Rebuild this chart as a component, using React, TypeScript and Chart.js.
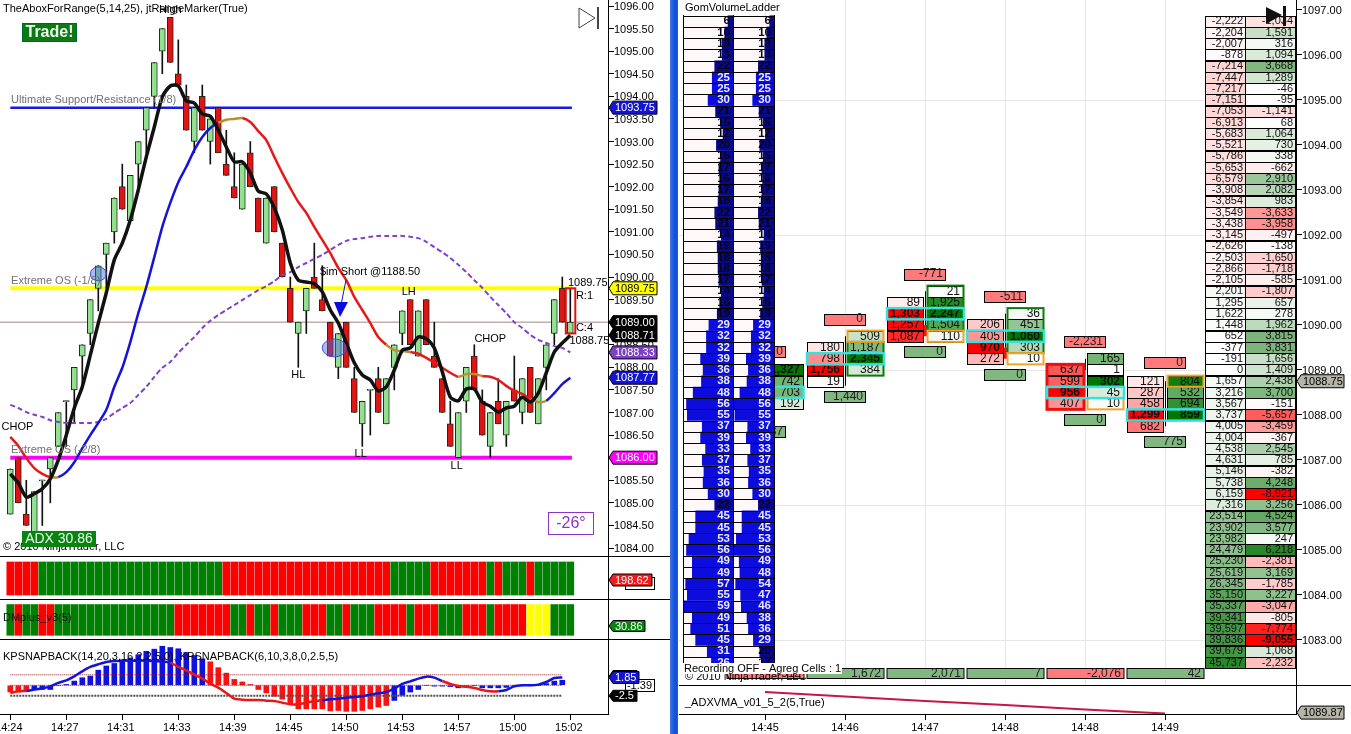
import React, { useEffect, useRef } from 'react';
import { Chart, registerables } from 'chart.js';

Chart.register(...registerables);

const FONT = '"Liberation Sans", Arial, sans-serif';

// ---------- left chart data ----------
const opens = [
  1084.75, 1086, 1084.75, 1084.25, 1085.5, 1085.75, 1086.25, 1087.25, 1087.5, 1088.25,
  1088.75, 1089.75, 1090.5, 1091, 1092, 1091.25, 1092.5, 1093.25, 1094, 1095,
  1095.75, 1094.5, 1094, 1093, 1094, 1093, 1093.75, 1092.5, 1092, 1091.5,
  1092.75, 1091.75, 1090.75, 1092, 1090.75, 1089.75, 1088.75, 1089.25, 1090, 1089.5,
  1089, 1088, 1089, 1087.75, 1086.75, 1087.5, 1087.75, 1086.75, 1088, 1088.75,
  1089.5, 1088.25, 1089.5, 1088.25, 1087.75, 1086.75, 1086, 1087.25, 1088.25, 1087.25,
  1086.25, 1087.25, 1086.5, 1087.5, 1087, 1088, 1086.75, 1088, 1088.75, 1089.75,
  1088.75,
];
const highs = [
  1085.75, 1086, 1085.5, 1085.25, 1085.5, 1086, 1087, 1087.25, 1088, 1088.5,
  1089.5, 1090.25, 1090.75, 1091.75, 1092.5, 1092.25, 1093, 1093.75, 1094.75, 1095.5,
  1095.75, 1095.25, 1094.25, 1093.75, 1094.25, 1093.5, 1093.75, 1093.25, 1092.75, 1092.5,
  1093, 1091.75, 1091.75, 1092, 1090.75, 1090, 1089, 1089.75, 1090.75, 1090.25,
  1089, 1088.75, 1089, 1088, 1087.25, 1087.5, 1088, 1087.75, 1088.5, 1089.25,
  1089.5, 1089.25, 1089.5, 1089, 1087.75, 1087.25, 1087, 1088, 1088.5, 1087.5,
  1087, 1087.75, 1087.25, 1088.25, 1087.75, 1088, 1087.75, 1088.5, 1089.5, 1090,
  1089.75,
];
const lows = [
  1084.75, 1085, 1084.5, 1084.25, 1084.5, 1085, 1086.25, 1086.25, 1086.75, 1087.5,
  1088.5, 1089.25, 1089.75, 1090.75, 1091.5, 1091.25, 1092, 1092.75, 1093.75, 1094.5,
  1094.75, 1094.25, 1093.25, 1092.75, 1093.25, 1092.5, 1092.75, 1092.25, 1091.75, 1091.5,
  1092, 1091, 1090.75, 1091, 1090, 1089, 1088, 1088.75, 1089.75, 1089.25,
  1088.25, 1087.75, 1088, 1087, 1086.25, 1086.5, 1087, 1086.75, 1087.5, 1088.5,
  1088.5, 1088.25, 1088.5, 1088, 1087, 1086.25, 1086, 1087, 1087.5, 1086.5,
  1086, 1086.75, 1086.25, 1087.25, 1086.75, 1087, 1086.75, 1087.5, 1088.5, 1089,
  1088.75,
];
const closes = [
  1085.75, 1085, 1084.5, 1085.25, 1085.5, 1086, 1087, 1087.25, 1088, 1088.5,
  1089.5, 1090.25, 1090.75, 1091.75, 1091.5, 1092.25, 1093, 1093.75, 1094.75, 1095.5,
  1094.75, 1094.25, 1093.25, 1093.75, 1093.25, 1093.5, 1092.75, 1092.25, 1091.75, 1092.5,
  1092, 1091, 1091.75, 1091, 1090, 1089, 1089, 1089.75, 1089.75, 1089.25,
  1088.25, 1088.75, 1088, 1087, 1087.25, 1087.5, 1087, 1087.75, 1088.5, 1089.25,
  1088.5, 1089.25, 1088.5, 1088, 1087, 1086.25, 1087, 1088, 1087.5, 1086.5,
  1087, 1086.75, 1087.25, 1087.25, 1087.75, 1087, 1087.75, 1088.5, 1089.5, 1089,
  1089,
];
const fastLine = [
  1085.64, 1085.44, 1085.13, 1085.2, 1085.31, 1085.53, 1085.95, 1086.5, 1087.1, 1087.57,
  1088.27, 1088.98, 1089.65, 1090.38, 1090.75, 1091.26, 1091.93, 1092.66, 1093.32, 1093.99,
  1094.23, 1094.23, 1093.9, 1093.85, 1093.61, 1093.56, 1093.25, 1092.88, 1092.55, 1092.55,
  1092.3, 1091.9, 1091.84, 1091.53, 1091.04, 1090.31, 1089.93, 1089.89, 1089.85, 1089.67,
  1089.27, 1088.98, 1088.54, 1088.1, 1087.83, 1087.72, 1087.48, 1087.57, 1087.94, 1088.38,
  1088.43, 1088.67, 1088.63, 1088.43, 1087.9, 1087.34, 1087.26, 1087.52, 1087.52, 1087.23,
  1087.14, 1087.01, 1087.1, 1087.14, 1087.34, 1087.23, 1087.43, 1087.88, 1088.34, 1088.54,
  1088.71,
];
const trendLine = [
  1086.46, 1086.26, 1085.99, 1085.77, 1085.64, 1085.57, 1085.57, 1085.68, 1085.9, 1086.21,
  1086.5, 1086.77, 1087.06, 1087.57, 1087.99, 1088.56, 1089.2, 1089.78, 1090.44, 1091.11,
  1091.64, 1092.1, 1092.44, 1092.81, 1093.1, 1093.3, 1093.41, 1093.48, 1093.5, 1093.52,
  1093.43, 1093.23, 1093.03, 1092.66, 1092.3, 1091.97, 1091.66, 1091.42, 1091.11, 1090.82,
  1090.53, 1090.2, 1089.93, 1089.56, 1089.27, 1088.98, 1088.67, 1088.5, 1088.38, 1088.36,
  1088.34, 1088.3, 1088.21, 1088.1, 1087.99, 1087.88, 1087.79, 1087.85, 1087.85, 1087.81,
  1087.79, 1087.72, 1087.59, 1087.48, 1087.41, 1087.3, 1087.23, 1087.26, 1087.43, 1087.63,
  1087.77,
];
const slowLine = [
  1087.17, 1087.1, 1087.01, 1086.95, 1086.9, 1086.83, 1086.79, 1086.77, 1086.77, 1086.77,
  1086.77, 1086.79, 1086.86, 1086.99, 1087.1, 1087.21, 1087.39, 1087.57, 1087.79, 1087.99,
  1088.12, 1088.32, 1088.5, 1088.67, 1088.87, 1089.03, 1089.16, 1089.27, 1089.38, 1089.49,
  1089.6, 1089.71, 1089.8, 1089.91, 1090.04, 1090.11, 1090.22, 1090.31, 1090.4, 1090.49,
  1090.6, 1090.71, 1090.8, 1090.84, 1090.86, 1090.89, 1090.91, 1090.91, 1090.91, 1090.91,
  1090.89, 1090.86, 1090.78, 1090.66, 1090.55, 1090.42, 1090.27, 1090.11, 1089.93, 1089.76,
  1089.56, 1089.38, 1089.2, 1089, 1088.87, 1088.72, 1088.61, 1088.54, 1088.47, 1088.43,
  1088.33,
];
const trendRuns: [string, number][] = [['R', 6], ['Y', 1], ['B', 20], ['Y', 3], ['R', 18], ['Y', 3], ['R', 6], ['Y', 3], ['R', 6], ['Y', 2], ['B', 3]];
const kpsRuns: [string, number][] = [['R', 4], ['G', 23], ['R', 21], ['G', 5], ['R', 7], ['G', 1], ['R', 1], ['G', 3], ['R', 1], ['G', 5]];
const dmRuns: [string, number][] = [['G', 1], ['R', 1], ['G', 2], ['R', 2], ['G', 15], ['R', 7], ['G', 2], ['R', 1], ['G', 2], ['R', 1], ['G', 3], ['R', 3], ['G', 2], ['R', 1], ['G', 3], ['R', 4], ['G', 1], ['R', 3], ['G', 3], ['R', 3], ['G', 1], ['R', 4], ['Y', 3], ['G', 3]];
const kpBars = [
  -1.6, -1.6, -1.4, -1, -1, -1, 0, 0.2, 1, 1.8,
  2.2, 3.6, 4.6, 5.2, 6, 6.5, 7.3, 8.1, 8.6, 9.3,
  9, 8.7, 7.8, 7.1, 6.3, 5.6, 4.2, 2.9, 1.4, 0.8,
  0.2, -1, -1.8, -2.6, -3.3, -4.6, -5.6, -5.6, -5.6, -5.6,
  -6.1, -6, -6.2, -6.2, -6, -5.6, -5.2, -4.8, -3.6, -2.4,
  -1.6, -1, 0, -0.2, -0.2, -0.3, -0.6, -0.2, 0, -0.6,
  -0.6, -0.6, -0.5, -0.2, -0.1, -0.1, 0, 0.4, 1, 1.2,
  null,
];
const kpLine = [
  -1.83, -1.43, -1.35, -1.03, -0.71, -0.24, 0.56, 1.19, 2.14, 3.33,
  4.37, 5, 5.56, 5.79, 5.87, 5.87, 5.87, 5.87, 5.79, 5.63,
  5.4, 4.37, 3.57, 2.54, 1.59, 0.4, -0.56, -1.83, -3.17, -3.41,
  -3.49, -3.49, -3.65, -3.73, -4.13, -4.52, -4.52, -4.13, -3.81, -3.57,
  -3.33, -3.17, -2.94, -2.78, -2.62, -2.22, -1.9, -1.59, -0.79, 0.32,
  0.95, 1.59, 2.06, 1.83, 1.03, 0.32, -0.16, -0.32, -0.63, -1.11,
  -1.43, -1.43, -1.11, -0.24, 0, 0, 0.16, 0.79, 1.75, 1.85,
  null,
];
const kpBarRuns: [string, number][] = [['R', 3], ['B', 22], ['R', 23], ['B', 23]];
const kpLineRuns: [string, number][] = [['R', 3], ['B', 18], ['R', 19], ['B', 15], ['R', 7], ['B', 9]];
const kpLevels = [2.5, 0, -2.5];
const priceTicksLeft = [1084, 1084.5, 1085, 1085.5, 1086, 1086.5, 1087, 1087.5, 1088, 1088.5, 1089, 1089.5, 1090, 1090.5, 1091, 1091.5, 1092, 1092.5, 1093, 1093.5, 1094, 1094.5, 1095, 1095.5, 1096];
const timeTicks = [0, 7, 14, 21, 28, 35, 42, 49, 56, 63, 70];
const timeLabels = ['14:24', '14:27', '14:31', '14:33', '14:39', '14:45', '14:50', '14:53', '14:57', '15:00', '15:02'];
const levelLines = [
  { price: 1089.75, color: '#ffff00', width: 4 },
  { price: 1086, color: '#ff00ff', width: 4 },
  { price: 1093.75, color: '#1a1ae0', width: 2.5 },
];
const priceNotes = [
  { i: 0.1, p: 1093.92, text: 'Ultimate Support/Resistance (1/8)', color: '#707070', align: 'left' },
  { i: 0.1, p: 1089.91, text: 'Extreme OS (-1/8)', color: '#707070', align: 'left' },
  { i: 0.1, p: 1086.17, text: 'Extreme OS (-2/8)', color: '#707070', align: 'left' },
  { i: 20, p: 1095.91, text: 'High', color: '#000', align: 'center' },
  { i: 0.9, p: 1086.68, text: 'CHOP', color: '#000', align: 'center' },
  { i: 60, p: 1088.63, text: 'CHOP', color: '#000', align: 'center' },
  { i: 36, p: 1087.83, text: 'HL', color: '#000', align: 'center' },
  { i: 49.8, p: 1089.67, text: 'LH', color: '#000', align: 'center' },
  { i: 43.8, p: 1086.08, text: 'LL', color: '#000', align: 'center' },
  { i: 55.8, p: 1085.82, text: 'LL', color: '#000', align: 'center' },
  { i: 38.7, p: 1090.11, text: '$im Short @1188.50', color: '#000', align: 'left' },
  { i: 69.7, p: 1089.87, text: '1089.75', color: '#000', align: 'left' },
  { i: 70.7, p: 1089.58, text: 'R:1', color: '#000', align: 'left' },
  { i: 70.7, p: 1088.87, text: 'C:4', color: '#000', align: 'left' },
  { i: 69.9, p: 1088.58, text: '1088.75', color: '#000', align: 'left' },
];
const priceTags = [
  { v: 1093.75, fill: '#1414d8', text: '#fff', w: 44 },
  { v: 1089.75, fill: '#ffff00', text: '#000', w: 44 },
  { v: 1089, fill: '#000', text: '#fff', w: 44 },
  { v: 1088.71, fill: '#000', text: '#fff', w: 44 },
  { v: 1088.33, fill: '#7d3fc8', text: '#fff', w: 44 },
  { v: 1087.77, fill: '#1414d8', text: '#fff', w: 44 },
  { v: 1086, fill: '#ff00ff', text: '#fff', w: 44 },
];

// ---------- right chart data ----------
const ladderBid = [
  6, 10, 13, 13, 22, 25, 25, 30, 21, 15, 12, 20, 15, 17, 16, 17, 18, 22, 21, 14, 19, 18, 18, 17, 14, 16, 19,
  29, 32, 32, 39, 36, 38, 48, 56, 55, 37, 39, 33, 37, 35, 36, 30, 22, 45, 45, 53, 56, 49, 49, 57, 55, 59, 49, 51, 45, 31, 26,
];
const ladderAsk = [
  6, 10, 13, 13, 22, 25, 25, 30, 21, 15, 12, 20, 15, 17, 16, 17, 18, 22, 21, 14, 19, 18, 18, 17, 14, 16, 19,
  29, 32, 32, 39, 36, 38, 48, 56, 55, 37, 39, 33, 37, 35, 36, 30, 22, 45, 45, 53, 56, 49, 48, 54, 47, 46, 38, 36, 29, 20, 17,
];
const cumDelta = [
  -2222, -2204, -2007, -878, -7214, -7447, -7217, -7151, -7053, -6913,
  -5683, -5521, -5786, -5653, -6579, -3908, -3854, -3549, -3438, -3145,
  -2626, -2503, -2866, -2105, 2201, 1295, 1622, 1448, 652, -377,
  -191, 0, 1657, 3216, 3567, 3737, 4005, 4004, 4538, 4631,
  5146, 5738, 6159, 7316, 23514, 23902, 23982, 24479, 25230, 25619,
  26345, 35150, 35337, 39341, 39597, 39836, 39679, 45737,
];
const rowDelta = [
  -1034, 1591, 316, 1094, 3668, 1289, -46, -95, -1141, 68,
  1064, 730, 338, -662, 2910, 2082, 983, -3633, -3958, -497,
  -138, -1650, -1718, -585, -1807, 657, 278, 1962, 3815, 3831,
  1656, 1409, 2438, 3700, -151, -5657, -3459, -367, 2545, 785,
  -382, 4248, -8921, 3256, 4524, 3577, 247, 6218, -2381, 3169,
  -1785, 3227, -3047, -805, -7774, -9055, 1068, -2232,
];
const ladderTopPrice = 1096.75;
const ladderStep = 0.25;
const fpBidTop = [1089.25, 1089.5, 1090.5, 1090, 1089, 1088.75];
const fpBid = [[], [180, 798, 1756, 19], [89, 1303, 1257, 1087], [206, 405, 970, 272], [637, 599, 956, 407], [121, 287, 458, 1299, 682]];
const fpAskTop = [1089, 1089.75, 1090.75, 1090.25, 1089.25, 1088.75];
const fpAsk = [[1327, 742, 703, 192], [509, 1187, 2345, 384], [21, 1925, 2247, 1504, 110], [36, 451, 1060, 303, 10], [165, 1, 302, 45, 10], [804, 532, 694, 859]];
const fpPoc = [1088.5, 1089.25, 1090.25, 1089.75, 1088.5, 1088];
const fpOrange = [null, 1089.75, 1089.75, 1089.25, 1088.25, 1088.75];
const fpGreenHi = [null, 1089.5, 1090.75, 1090.25, null, null];
const fpGreenLo = [null, 1089, 1090, 1089.5, null, null];
const fpWickHi = [null, 1089.75, 1090.75, 1090.25, 1089.25, 1088.75];
const fpWickLo = [null, 1088.65, 1090, 1089.5, 1089, 1087.75];
const fpBodyHi = [null, null, 1090, 1089.5, null, null];
const fpBodyLo = [null, null, 1089.75, 1089.25, null, null];
const fpDeltaTopPrice = [1089.4, 1090.13, 1091.13, 1090.64, 1089.64, 1089.16];
const fpDeltaTop = ['0', '0', '-771', '-511', '-2,231', '0'];
const fpDeltaLowPrice = [1087.64, 1088.4, 1089.4, 1088.89, 1087.89, 1087.4];
const fpDeltaLow = ['1,437', '1,440', '0', '0', '0', '775'];
const fpSummary = ['-512', '1,672', '2,071', '7', '-2,076', '42'];
const rightTicks = [1083, 1084, 1085, 1086, 1087, 1088, 1089, 1090, 1091, 1092, 1093, 1094, 1095, 1096, 1097];
const rightGrid = [1083, 1086, 1089, 1092, 1095];
const rightTimes = ['14:45', '14:46', '14:47', '14:48', '14:48', '14:49'];
const rightColumns = [0, 1, 2, 3, 4, 5];
const adxLine = [1090.95, 1090.72, 1090.5, 1090.3, 1090.08, 1089.87];

// ---------- helpers ----------
const expand = (runs: [string, number][]) => runs.flatMap(([s, n]) => Array(n).fill(s));
const STATE: any = { R: '#ff0000', G: '#008000', Y: '#ffff00' };
const LINE: any = { R: '#e81818', B: '#1414d8', Y: '#b8902a' };
const KP: any = { R: '#ff1010', B: '#1010e0' };
const pts = (arr: any[]) => arr.map((y, x) => ({ x, y }));
const fitRight = (w: number) => (s: any) => { s.width = w; s.paddingTop = 0; s.paddingBottom = 0; s.paddingLeft = 0; s.paddingRight = 0; };
const fitBottom = (h: number) => (s: any) => { s.height = h; s.paddingLeft = 0; s.paddingRight = 0; s.paddingTop = 0; s.paddingBottom = 0; };
const LEFT_X = { type: 'linear', min: -1.2875, max: 74.7125, offset: false, grid: { offset: false, display: false }, display: false };
const RIGHT_X = { type: 'linear', min: -1.075, max: 6.6375, offset: false, grid: { offset: false, display: false }, display: false };
const axisBorder = { color: '#000', width: 1 };
const blankY = (min: number, max: number, w: number) => ({
  type: 'linear', position: 'right', min, max, offset: false, afterFit: fitRight(w), border: axisBorder,
  grid: { drawOnChartArea: false, drawTicks: false, offset: false }, ticks: { display: false },
});
const baseOptions = { responsive: false, maintainAspectRatio: false, animation: false, devicePixelRatio: 1, events: [], layout: { padding: 0 }, plugins: { legend: { display: false }, tooltip: { enabled: false } } };
const setFont = (ctx: any, size = 11, bold = false) => { ctx.font = `${bold ? 'bold ' : ''}${size}px ${FONT}`; };
const text = (ctx: any, s: string, x: number, y: number, color = '#000', align = 'left', size = 11, bold = false) => {
  setFont(ctx, size, bold); ctx.fillStyle = color; ctx.textAlign = align; ctx.textBaseline = 'middle'; ctx.fillText(s, x, y);
};
const tag = (ctx: any, axisX: number, yc: number, w: number, h: number, fill: string, color: string, s: string) => {
  ctx.beginPath();
  ctx.moveTo(axisX + 1, yc); ctx.lineTo(axisX + 5, yc - h / 2); ctx.lineTo(axisX + 5 + w, yc - h / 2);
  ctx.lineTo(axisX + 5 + w, yc + h / 2); ctx.lineTo(axisX + 5, yc + h / 2); ctx.closePath();
  ctx.fillStyle = fill; ctx.fill(); ctx.strokeStyle = '#000'; ctx.lineWidth = 1; ctx.stroke();
  text(ctx, s, axisX + 7, yc + 0.5, color, 'left', 11);
};
const tint = (rgb: number[], t: number) => {
  const k = Math.max(0, Math.min(1, t));
  return `rgb(${rgb.map((c) => Math.round(255 + (c - 255) * k)).join(',')})`;
};
const RED = [255, 0, 0];
const GREEN = [40, 135, 40];
const FP_GREEN = [0, 120, 0];
const box = (ctx: any, x: number, y: number, w: number, h: number, fill: string | null, stroke: string, lw = 1) => {
  if (fill) { ctx.fillStyle = fill; ctx.fillRect(x, y, w, h); }
  ctx.strokeStyle = stroke; ctx.lineWidth = lw; ctx.strokeRect(x, y, w, h);
};

// ---------- chart configs ----------
function priceConfig() {
  const trend = expand(trendRuns);
  const candleBars = opens.map((o, i) => ({ x: i, y: o === closes[i] ? [o - 0.012, o + 0.012] : [o, closes[i]] }));
  const overlay = {
    id: 'priceOverlay',
    afterDraw(chart: any) {
      const { ctx, scales: { x, y } } = chart;
      ctx.save();
      text(ctx, 'TheAboxForRange(5,14,25), jtRangeMarker(True)', 3, 9);
      box(ctx, 22.5, 23.5, 54, 18, '#0b7a12', '#063');
      text(ctx, 'Trade!', 49.5, 33, '#eefcee', 'center', 16, true);
      ctx.fillStyle = 'rgba(70,100,225,0.45)'; ctx.strokeStyle = '#3a50d0'; ctx.lineWidth = 1;
      ctx.beginPath(); ctx.ellipse(x.getPixelForValue(11), y.getPixelForValue(1090.07), 8, 7, 0, 0, Math.PI * 2); ctx.fill(); ctx.stroke();
      ctx.beginPath(); ctx.ellipse(x.getPixelForValue(40.5), y.getPixelForValue(1088.43), 12, 9, 0, 0, Math.PI * 2); ctx.fill(); ctx.stroke();
      priceNotes.forEach((n) => text(ctx, n.text, x.getPixelForValue(n.i), y.getPixelForValue(n.p), n.color, n.align));
      // entry arrow
      ctx.strokeStyle = '#1414d8'; ctx.lineWidth = 1; ctx.beginPath(); ctx.moveTo(346, 280); ctx.lineTo(341, 305); ctx.stroke();
      ctx.fillStyle = '#0a0ae0'; ctx.beginPath(); ctx.moveTo(334, 302); ctx.lineTo(348, 302); ctx.lineTo(340, 317); ctx.closePath(); ctx.fill();
      // last bar range box
      ctx.strokeStyle = '#e01010'; ctx.lineWidth = 2;
      const top = y.getPixelForValue(highs[70]); const bot = y.getPixelForValue(lows[70]);
      ctx.strokeRect(x.getPixelForValue(70) - 4.5, top, 9.5, bot - top);
      // playback button
      ctx.strokeStyle = '#444'; ctx.lineWidth = 1; ctx.beginPath(); ctx.moveTo(579, 8); ctx.lineTo(595, 18); ctx.lineTo(579, 28); ctx.closePath(); ctx.stroke();
      ctx.fillStyle = '#444'; ctx.fillRect(597, 7, 2, 22);
      // info boxes
      text(ctx, '© 2010 NinjaTrader, LLC', 3, 547);
      box(ctx, 22.5, 531.5, 73, 15, '#0a8410', '#0a8410');
      text(ctx, 'ADX 30.86', 59, 539.5, '#eaffea', 'center', 14);
      box(ctx, 548.5, 512.5, 45, 22, '#fff', '#8a35c8');
      text(ctx, '-26°', 571, 523.5, '#8a35c8', 'center', 16);
      priceTags.forEach((t) => tag(ctx, 608, y.getPixelForValue(t.v), t.w, 13, t.fill, t.text, t.v.toFixed(2)));
      ctx.restore();
    },
  };
  return {
    type: 'bar',
    data: {
      datasets: [
        { type: 'line', data: pts(fastLine), borderColor: '#111', borderWidth: 3.5, pointRadius: 0, tension: 0.25, order: 1 },
        { type: 'line', data: pts(trendLine), borderColor: '#e81818', borderWidth: 2.5, pointRadius: 0, tension: 0.25, order: 1.5, segment: { borderColor: (c: any) => LINE[trend[c.p1DataIndex]] } },
        { type: 'line', data: pts(slowLine), borderColor: '#8040c8', borderWidth: 2, borderDash: [5, 3], pointRadius: 0, tension: 0.25, order: 2 },
        { data: candleBars, backgroundColor: opens.map((o, i) => (closes[i] >= o ? '#93e093' : '#e01414')), borderColor: '#1c2c1c', borderWidth: 1, borderSkipped: false, barThickness: 6, grouped: false, order: 3 },
        { data: highs.map((h, i) => ({ x: i, y: [lows[i], h] })), backgroundColor: '#111', barThickness: 1, grouped: false, order: 4 },
        ...levelLines.map((l) => ({ type: 'line', data: [{ x: 0, y: l.price }, { x: 70.2, y: l.price }], borderColor: l.color, borderWidth: l.width, pointRadius: 0, order: 5 })),
        { type: 'line', data: [{ x: -1.2875, y: 1089 }, { x: 74.7125, y: 1089 }], borderColor: '#a48484', borderWidth: 1, pointRadius: 0, order: 6 },
      ],
    },
    options: {
      ...baseOptions,
      scales: {
        x: LEFT_X,
        y: {
          type: 'linear', position: 'right', min: 1083.823, max: 1096.133, offset: false,
          afterFit: fitRight(62), afterBuildTicks: (s: any) => { s.ticks = priceTicksLeft.map((value) => ({ value })); },
          border: axisBorder, grid: { drawOnChartArea: false, tickLength: 6, tickColor: '#000', offset: false },
          ticks: { autoSkip: false, padding: 0, labelOffset: 1, color: '#000', font: { family: FONT, size: 11 }, callback: (v: number) => v.toFixed(2) },
        },
      },
    },
    plugins: [overlay],
  };
}

function stateConfig(runs: [string, number][], draw: (ctx: any) => void) {
  const states = expand(runs);
  return {
    type: 'bar',
    data: { datasets: [{ data: states.map((_, i) => ({ x: i, y: 1 })), backgroundColor: states.map((s) => STATE[s]), barThickness: 7, grouped: false }] },
    options: { ...baseOptions, scales: { x: LEFT_X, y: blankY(-0.12, 1.18, 62) } },
    plugins: [{ id: 'stateOverlay', afterDraw(chart: any) { chart.ctx.save(); draw(chart.ctx); chart.ctx.restore(); } }],
  };
}

function kpConfig() {
  const barColors = expand(kpBarRuns).map((s) => KP[s]);
  const lineColors = expand(kpLineRuns);
  const overlay = {
    id: 'kpOverlay',
    afterDraw(chart: any) {
      const { ctx, scales: { y } } = chart;
      ctx.save();
      text(ctx, 'KPSNAPBACK(14,20,3,16,2,2.5,0), KPSNAPBACK(6,10,3,8,0,2.5,5)', 3, 18);
      box(ctx, 625.5, 40.5, 29, 12, '#fff', '#000');
      text(ctx, '-1.39', 652, 47, '#000', 'right');
      tag(ctx, 608, y.getPixelForValue(1.85) - 1, 24, 12, '#700', '#fff', '');
      tag(ctx, 608, y.getPixelForValue(-2.5), 24, 11, '#000', '#fff', '-2.5');
      tag(ctx, 608, y.getPixelForValue(1.85), 26, 12, '#1414d8', '#fff', '1.85');
      ctx.restore();
    },
  };
  return {
    type: 'bar',
    data: {
      datasets: [
        { type: 'line', data: pts(kpLine), borderColor: '#1414d8', borderWidth: 2.5, pointRadius: 0, tension: 0.25, order: 1, segment: { borderColor: (c: any) => LINE[lineColors[c.p1DataIndex]] } },
        { data: pts(kpBars), backgroundColor: barColors, barThickness: 5, grouped: false, order: 2 },
        { type: 'line', data: [{ x: 0, y: kpLevels[0] }, { x: 69, y: kpLevels[0] }], borderColor: '#a01818', borderWidth: 1, borderDash: [1, 1], pointRadius: 0, order: 1.5 },
        { type: 'line', data: [{ x: 0, y: kpLevels[1] }, { x: 69, y: kpLevels[1] }], borderColor: '#801818', borderWidth: 1, borderDash: [1, 1], pointRadius: 0, order: 1.5 },
        { type: 'line', data: [{ x: 0, y: kpLevels[2] }, { x: 69, y: kpLevels[2] }], borderColor: '#505050', borderWidth: 2, borderDash: [2, 1], pointRadius: 0, order: 1.5 },
      ],
    },
    options: {
      ...baseOptions,
      scales: {
        x: {
          type: 'linear', position: 'bottom', min: -1.2875, max: 74.7125, offset: false, afterFit: fitBottom(20),
          afterBuildTicks: (s: any) => { s.ticks = timeTicks.map((value) => ({ value })); },
          border: axisBorder, grid: { drawOnChartArea: false, tickLength: 6, tickColor: '#000', offset: false },
          ticks: { autoSkip: false, maxRotation: 0, padding: 1, labelOffset: -1.5, color: '#000', font: { family: FONT, size: 11 }, callback: (v: number) => timeLabels[timeTicks.indexOf(v)] },
        },
        y: blankY(-6.83, 11.02, 62),
      },
    },
    plugins: [overlay],
  };
}

function rightConfig() {
  const rowPrices = ladderBid.map((_, k) => ladderTopPrice - ladderStep * k);
  const CELL = 36;
  const RH = 11.25;
  const drawCells = (ctx: any, cx: number, y: any, c: number) => {
    const bidMax = Math.max(1, ...fpBid[c]);
    const askMax = Math.max(1, ...fpAsk[c]);
    fpBid[c].forEach((v: number, r: number) => {
      const yc = y.getPixelForValue(fpBidTop[c] - r * ladderStep);
      box(ctx, cx - 2 - CELL + 0.5, Math.round(yc - RH / 2) + 0.5, CELL, 11, tint(RED, v / bidMax), '#000');
      text(ctx, v.toLocaleString('en-US'), cx - 5, yc, '#111', 'right', 12, v === bidMax);
    });
    fpAsk[c].forEach((v: number, r: number) => {
      const yc = y.getPixelForValue(fpAskTop[c] - r * ladderStep);
      box(ctx, cx + 2 + 0.5, Math.round(yc - RH / 2) + 0.5, CELL, 11, tint(FP_GREEN, v / askMax), '#000');
      text(ctx, v.toLocaleString('en-US'), cx + CELL - 1, yc, '#111', 'right', 12, v === askMax);
    });
  };
  const under = {
    id: 'rightUnder',
    beforeDatasetsDraw(chart: any) {
      const { ctx, scales: { x, y, ladderA, ladderB }, chartArea } = chart;
      ctx.save();
      ctx.strokeStyle = '#e6e6e6'; ctx.lineWidth = 1;
      rightColumns.forEach((c) => { const p = Math.round(x.getPixelForValue(c)) + 0.5; ctx.beginPath(); ctx.moveTo(p, 0); ctx.lineTo(p, chartArea.bottom); ctx.stroke(); });
      rightGrid.forEach((g) => { const p = Math.round(y.getPixelForValue(g)) + 0.5; ctx.beginPath(); ctx.moveTo(0, p); ctx.lineTo(chartArea.right, p); ctx.stroke(); });
      rightColumns.forEach((c) => {
        const cx = x.getPixelForValue(c);
        // per-column wick and body
        if (fpWickHi[c] != null) {
          ctx.strokeStyle = '#000'; ctx.lineWidth = 1; ctx.beginPath();
          ctx.moveTo(Math.round(cx) + 0.5, y.getPixelForValue(fpWickHi[c])); ctx.lineTo(Math.round(cx) + 0.5, y.getPixelForValue(fpWickLo[c])); ctx.stroke();
        }
        if (fpBodyHi[c] != null) {
          const t = y.getPixelForValue(fpBodyHi[c]); const b = y.getPixelForValue(fpBodyLo[c]);
          ctx.fillStyle = '#e81818'; ctx.fillRect(cx - 2, t, 5, b - t);
        }
        drawCells(ctx, cx, y, c);
        // outlines
        if (fpGreenHi[c] != null) {
          ctx.strokeStyle = '#0b7a0b'; ctx.lineWidth = 2;
          const t = y.getPixelForValue(fpGreenHi[c]) - RH / 2; const b = y.getPixelForValue(fpGreenLo[c]) + RH / 2;
          ctx.strokeRect(cx + 2.5, t, CELL, b - t);
        }
        if (c === 4) {
          ctx.strokeStyle = '#e81010'; ctx.lineWidth = 3;
          const t = y.getPixelForValue(fpBidTop[c]) - RH / 2; const b = y.getPixelForValue(fpBidTop[c] - 0.75) + RH / 2;
          ctx.strokeRect(cx - 2 - CELL, t, CELL + 1, b - t);
        }
        if (fpOrange[c] != null) {
          ctx.strokeStyle = '#f0a428'; ctx.lineWidth = 2;
          ctx.strokeRect(cx + 2.5, y.getPixelForValue(fpOrange[c]) - RH / 2, CELL, RH);
        }
        ctx.strokeStyle = '#38e0e0'; ctx.lineWidth = 2.5;
        const pocY = y.getPixelForValue(fpPoc[c]) - RH / 2;
        if (c === 0) ctx.strokeRect(cx + 2.5, pocY, CELL, RH); else ctx.strokeRect(cx - 2 - CELL, pocY, CELL * 2 + 5, RH);
        // delta boxes
        const hi = fpDeltaTop[c];
        const yTop = y.getPixelForValue(fpDeltaTopPrice[c]);
        box(ctx, cx - 20.5, Math.round(yTop - 5.5) + 0.5, 41, 11, '#ff7b7b', '#000');
        text(ctx, hi, cx + 18, yTop, '#222', 'right', 12);
        const yLow = y.getPixelForValue(fpDeltaLowPrice[c]);
        box(ctx, cx - 20.5, Math.round(yLow - 5.5) + 0.5, 41, 11, '#80b880', '#000');
        text(ctx, fpDeltaLow[c], cx + 18, yLow, '#222', 'right', 12);
        // summary row
        const neg = fpSummary[c].startsWith('-');
        box(ctx, cx - 38, 668.5, 77, 10, neg ? '#ff7b7b' : '#80b880', '#000');
        text(ctx, fpSummary[c], cx + 36, 673.5, '#222', 'right', 12);
      });
      text(ctx, '© 2010 NinjaTrader, LLC', 6, 677);
      // ladder backgrounds
      const a = ladderA.getPixelForValue(0); const b = ladderB.getPixelForValue(0);
      rowPrices.forEach((p) => {
        const t = Math.round(y.getPixelForValue(p) - RH / 2);
        ctx.fillStyle = '#fff8f8';
        ctx.fillRect(a - 50, t, 50, 11);
        ctx.fillRect(b - 40, t, 40, 11);
      });
      ctx.restore();
    },
    afterDatasetsDraw(chart: any) {
      const { ctx, scales: { y, ladderA, ladderB } } = chart;
      ctx.save();
      const a = ladderA.getPixelForValue(0); const b = ladderB.getPixelForValue(0);
      rowPrices.forEach((p, k) => {
        const yc = y.getPixelForValue(p);
        const t = Math.round(yc - RH / 2) + 0.5;
        ctx.strokeStyle = '#000'; ctx.lineWidth = 1;
        ctx.beginPath(); ctx.moveTo(a - 50, t); ctx.lineTo(a, t); ctx.moveTo(b - 40, t); ctx.lineTo(b, t); ctx.stroke();
        const col = (v: number) => (v < 25 ? '#050518' : '#e8e8ff');
        text(ctx, String(ladderBid[k]), a - 3, yc, col(ladderBid[k]), 'right', 11.5, true);
        text(ctx, String(ladderAsk[k]), b - 3, yc, col(ladderAsk[k]), 'right', 11.5, true);
        // cumulative table
        const A = cumDelta[k]; const B = rowDelta[k];
        const ty = Math.round(yc - RH / 2) + 0.5;
        box(ctx, 526.5, ty, 40, 11, A >= 0 ? tint(GREEN, A / 45737) : tint(RED, -A / 45000), '#000');
        box(ctx, 566.5, ty, 50, 11, B >= 0 ? tint(GREEN, B / 6218) : tint(RED, -B / 8900), '#000');
        text(ctx, A.toLocaleString('en-US'), 564, yc, '#111', 'right', 11);
        text(ctx, B.toLocaleString('en-US'), 614, yc, '#111', 'right', 11, B === -9055);
      });
      ctx.strokeStyle = '#000'; ctx.lineWidth = 1;
      ctx.beginPath(); ctx.moveTo(a - 49.5, 15); ctx.lineTo(a - 49.5, 668); ctx.moveTo(a + 0.5, 15); ctx.lineTo(a + 0.5, 668); ctx.moveTo(b + 0.5, 15); ctx.lineTo(b + 0.5, 668); ctx.stroke();
      ctx.restore();
    },
    afterDraw(chart: any) {
      const { ctx, scales: { y } } = chart;
      ctx.save();
      text(ctx, 'GomVolumeLadder', 6, 8);
      ctx.fillStyle = '#fff'; ctx.fillRect(4, 663, 159, 11);
      text(ctx, 'Recording OFF - Agreg Cells : 1', 5, 668.5);
      ctx.fillStyle = '#111'; ctx.beginPath(); ctx.moveTo(587, 7); ctx.lineTo(603, 15); ctx.lineTo(587, 24); ctx.closePath(); ctx.fill();
      ctx.fillRect(604, 6, 3, 20);
      tag(ctx, 617, y.getPixelForValue(1088.75), 43, 13, '#b4b4a8', '#000', '1088.75');
      ctx.restore();
    },
  };
  return {
    type: 'bar',
    data: {
      datasets: [
        { data: ladderBid.map((v, k) => ({ x: v, y: rowPrices[k] })), xAxisID: 'ladderA', yAxisID: 'y', backgroundColor: ladderBid.map((v) => (v < 25 ? '#08088e' : '#0c0cdc')), barThickness: 11, grouped: false },
        { data: ladderAsk.map((v, k) => ({ x: v, y: rowPrices[k] })), xAxisID: 'ladderB', yAxisID: 'y', backgroundColor: ladderAsk.map((v) => (v < 25 ? '#08088e' : '#0c0cdc')), barThickness: 11, grouped: false },
      ],
    },
    options: {
      ...baseOptions,
      indexAxis: 'y',
      scales: {
        x: RIGHT_X,
        ladderA: { axis: 'x', type: 'linear', display: false, reverse: true, min: -678.3, max: 65.06, offset: false, grid: { display: false } },
        ladderB: { axis: 'x', type: 'linear', display: false, reverse: true, min: -735.2, max: 133.8, offset: false, grid: { display: false } },
        y: {
          axis: 'y', type: 'linear', position: 'right', min: 1082, max: 1097.222, offset: false,
          afterFit: fitRight(55), afterBuildTicks: (s: any) => { s.ticks = rightTicks.map((value) => ({ value })); },
          border: axisBorder, grid: { drawOnChartArea: false, tickLength: 6, tickColor: '#000', offset: false },
          ticks: { autoSkip: false, padding: 0, labelOffset: 1, color: '#000', font: { family: FONT, size: 11 }, callback: (v: number) => v.toFixed(2) },
        },
      },
    },
    plugins: [under],
  };
}

function adxConfig() {
  return {
    type: 'line',
    data: { datasets: [{ data: pts(adxLine), borderColor: '#c81448', borderWidth: 2, pointRadius: 0 }] },
    options: {
      ...baseOptions,
      scales: {
        x: {
          type: 'linear', position: 'bottom', min: -1.075, max: 6.6375, offset: false, afterFit: fitBottom(20),
          afterBuildTicks: (s: any) => { s.ticks = rightColumns.map((value) => ({ value })); },
          border: axisBorder, grid: { drawOnChartArea: false, tickLength: 6, tickColor: '#000', offset: false },
          ticks: { autoSkip: false, maxRotation: 0, padding: 1, color: '#000', font: { family: FONT, size: 11 }, callback: (v: number) => rightTimes[v] },
        },
        y: blankY(1089.85, 1091.3, 55),
      },
    },
    plugins: [{
      id: 'adxOverlay',
      afterDraw(chart: any) {
        const { ctx, scales: { y } } = chart;
        ctx.save();
        text(ctx, '_ADXVMA_v01_5_2(5,True)', 6, 18);
        tag(ctx, 617, y.getPixelForValue(1089.87) - 1, 43, 13, '#b4b4a8', '#000', '1089.87');
        ctx.restore();
      },
    }],
  };
}

// ---------- components ----------
function Pane({ left, top, width, height, build, z = 1 }: any) {
  const ref = useRef<HTMLCanvasElement>(null);
  useEffect(() => {
    const chart = new Chart(ref.current as any, build());
    return () => chart.destroy();
  }, []);
  return <canvas ref={ref} width={width} height={height} style={{ position: 'absolute', left, top, width, height, zIndex: z, display: 'block' }} />;
}

const rule = (left: number, top: number, width: number) => (
  <div style={{ position: 'absolute', left, top, width, height: 1, background: '#000', zIndex: 5 }} />
);

export default function App() {
  return (
    <div style={{ position: 'fixed', left: 0, top: 0, width: 1351, height: 734, background: '#fff', overflow: 'hidden' }}>
      <Pane left={0} top={0} width={670} height={556} build={priceConfig} />
      <Pane left={0} top={556} width={670} height={43} build={() => stateConfig(kpsRuns, (ctx) => {
        box(ctx, 625.5, 21.5, 29, 12, '#fff', '#000');
        tag(ctx, 608, 24, 39, 12, '#ee1c1c', '#fff', '198.62');
      })} />
      <Pane left={0} top={599} width={670} height={40} build={() => stateConfig(dmRuns, (ctx) => {
        text(ctx, 'DMplus_v3(5)', 3, 19, '#111');
        tag(ctx, 608, 27, 32, 11, '#0a7f12', '#fff', '30.86');
      })} />
      <Pane left={0} top={639} width={670} height={95} build={kpConfig} />
      <Pane left={679} top={0} width={672} height={685} build={rightConfig} />
      <Pane left={679} top={685} width={672} height={49} build={adxConfig} />
      {rule(0, 556, 670)}
      {rule(0, 599, 670)}
      {rule(0, 639, 670)}
      {rule(679, 685, 672)}
      <div style={{ position: 'absolute', left: 670, top: 0, width: 8, height: 734, background: 'linear-gradient(90deg,#3f74e8,#0f50dc 60%,#1a5ae0)', zIndex: 6 }} />
    </div>
  );
}
